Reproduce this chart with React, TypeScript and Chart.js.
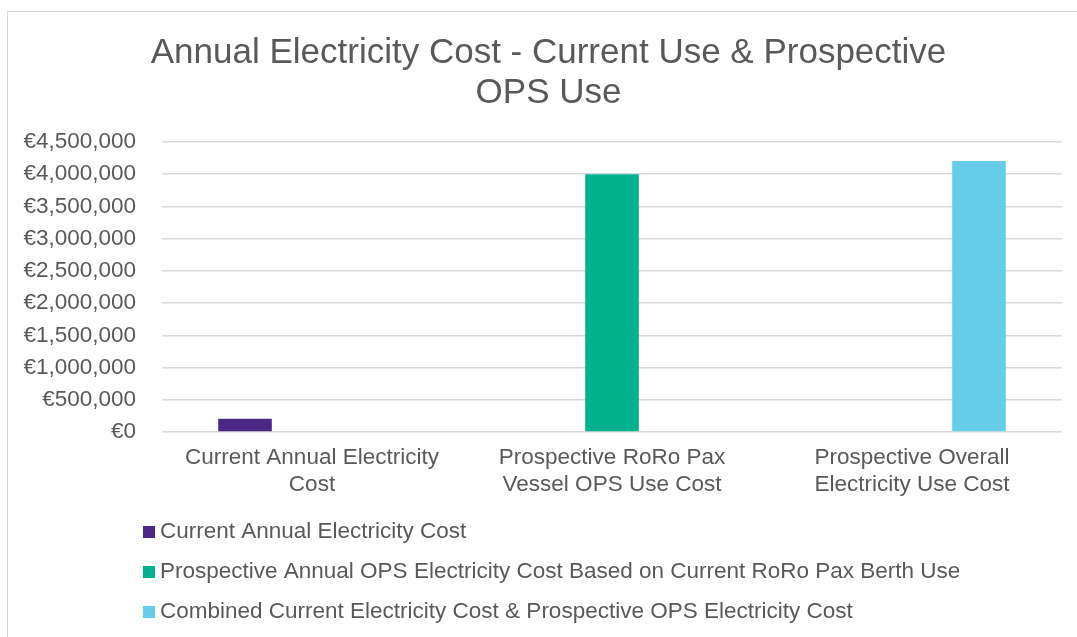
import React, { useEffect, useRef } from "react";
import { Chart, registerables } from "chart.js";

Chart.register(...registerables);

const titleLines = ["Annual Electricity Cost - Current Use & Prospective", "OPS Use"];
const categories = [
  ["Current Annual Electricity", "Cost"],
  ["Prospective RoRo Pax", "Vessel OPS Use Cost"],
  ["Prospective Overall", "Electricity Use Cost"],
];
const seriesNames = [
  "Current Annual Electricity Cost",
  "Prospective Annual OPS Electricity Cost Based on Current RoRo Pax Berth Use",
  "Combined Current Electricity Cost & Prospective OPS Electricity Cost",
];
const currentCost = [207000, null, null];
const opsCost = [null, 4000000, null];
const combinedCost = [null, null, 4207000];
const seriesColors = ["#4A2885", "#00B18F", "#66CDE9"];
const yMin = 0;
const yMax = 4500000;
const yStep = 500000;

const FONT = "'Liberation Sans', Arial, sans-serif";
const TEXT = "#595959";

const customLegend = {
  id: "customLegend",
  afterLayout(chart: any) {
    // centre the title over the whole chart frame rather than the padded box
    if (chart.titleBlock) chart.titleBlock.left += 12;
  },
  afterDraw(chart: any) {
    const ctx = chart.ctx;
    const base = chart.scales.x.bottom;
    ctx.save();
    ctx.font = `22.5px ${FONT}`;
    ctx.textBaseline = "middle";
    ctx.textAlign = "left";
    chart.data.datasets.forEach((ds: any, i: number) => {
      const y = base + 22 + i * 40;
      ctx.fillStyle = ds.backgroundColor;
      ctx.fillRect(143, y - 6, 12, 12);
      ctx.fillStyle = TEXT;
      ctx.fillText(ds.label, 160, y);
    });
    ctx.restore();
  },
};

export default function App() {
  const ref = useRef<HTMLCanvasElement | null>(null);
  useEffect(() => {
    if (!ref.current) return;
    const data = [currentCost, opsCost, combinedCost];
    const chart = new Chart(ref.current, {
      type: "bar",
      data: {
        labels: categories as any,
        datasets: seriesNames.map((name, i) => ({
          label: name,
          data: data[i] as any,
          backgroundColor: seriesColors[i],
          borderWidth: 0,
          categoryPercentage: 0.67,
          barPercentage: 0.8,
        })),
      },
      options: {
        responsive: false,
        animation: false,
        devicePixelRatio: 1,
        layout: { padding: { left: 23, right: 35, top: 0, bottom: 127 } },
        plugins: {
          legend: { display: false },
          tooltip: { enabled: false },
          title: {
            display: true,
            text: titleLines,
            color: TEXT,
            font: { family: FONT, size: 35, weight: "normal", lineHeight: 40 / 35 },
            padding: { top: 33, bottom: 29 },
          },
        },
        scales: {
          x: {
            grid: { display: false, drawTicks: false },
            border: { display: false },
            ticks: {
              color: TEXT,
              font: { family: FONT, size: 22.5, lineHeight: 27 / 22.5 },
              padding: 12,
              maxRotation: 0,
              autoSkip: false,
            },
          },
          y: {
            min: yMin,
            max: yMax,
            grid: { color: "#d9d9d9", lineWidth: 1.5, drawTicks: false },
            border: { display: false },
            afterFit: (scale: any) => {
              scale.width = 139;
            },
            ticks: {
              stepSize: yStep,
              color: TEXT,
              padding: 26,
              font: { family: FONT, size: 22.5 },
              callback: (v: any) => "€" + Number(v).toLocaleString("en-US"),
            },
          },
        },
      },
      plugins: [customLegend],
    });
    return () => chart.destroy();
  }, []);
  return (
    <div style={{ position: "fixed", left: 0, top: 0, width: 1077, height: 637, overflow: "hidden", background: "#fff" }}>
      <div style={{ position: "absolute", left: 7, top: 11, width: 2000, height: 2000, border: "1px solid #d4d4d4" }} />
      <canvas ref={ref} width={1097} height={637} style={{ position: "absolute", left: 0, top: 0 }} />
    </div>
  );
}
